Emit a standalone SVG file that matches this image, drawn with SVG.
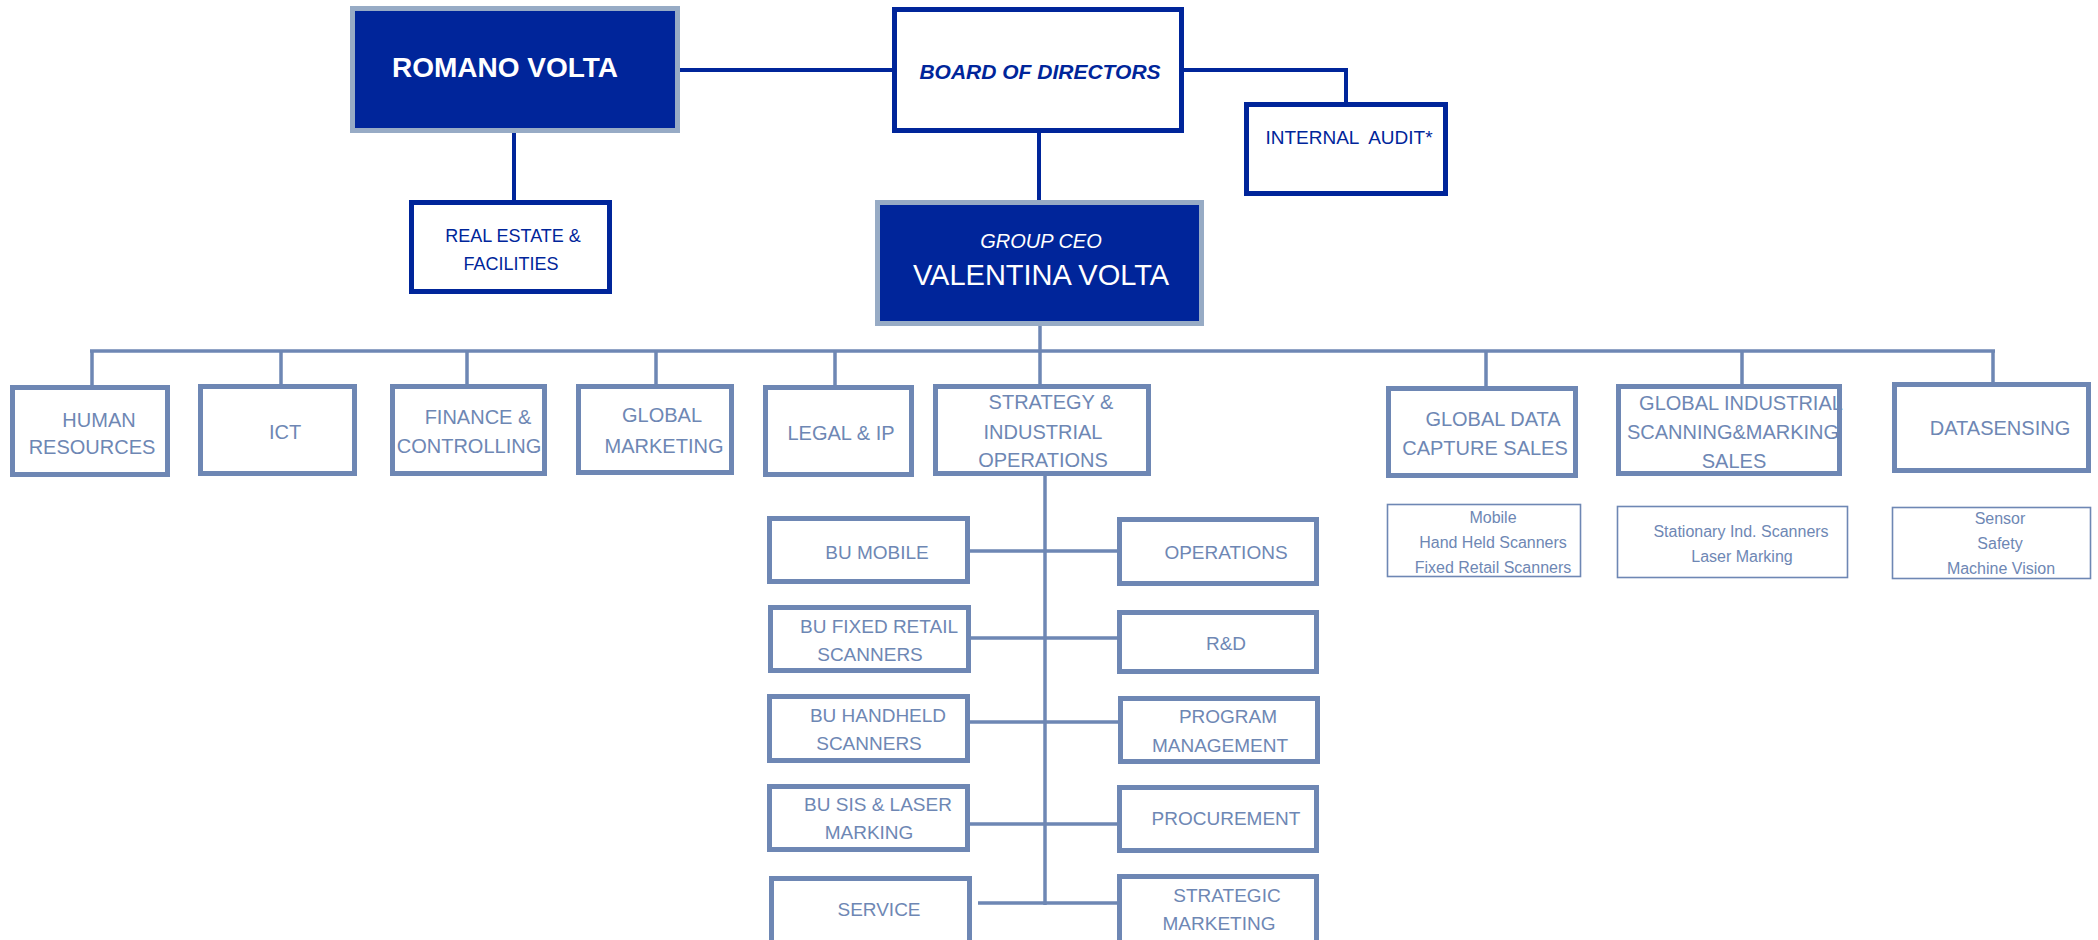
<svg xmlns="http://www.w3.org/2000/svg" width="2098" height="940" viewBox="0 0 2098 940">
<style>
text{font-family:"Liberation Sans",Arial,sans-serif;text-anchor:middle}
.dk{fill:#00259A;stroke:#97ABC5;stroke-width:5}
.wd{fill:#fff;stroke:#00259A;stroke-width:5}
.sb{fill:#fff;stroke:#6E87B4;stroke-width:5}
.thin{fill:#fff;stroke:#6E87B4;stroke-width:1.6}
.cd{stroke:#00259A;stroke-width:4;fill:none}
.cs{stroke:#6E87B4;stroke-width:3.5;fill:none}
.tw{fill:#fff}
.tdb{fill:#00259A}
.ts{fill:#6E87B4;font-size:20px}
.tl{fill:#6E87B4;font-size:19px}
.tx{fill:#6E87B4;font-size:16px}
</style>
<rect width="2098" height="940" fill="#fff"/>
<g id="connectors">
<path class="cd" d="M680 70H892"/>
<path class="cd" d="M1184 70H1346V102"/>
<path class="cd" d="M514 133V200"/>
<path class="cd" d="M1039 133V200"/>
<path class="cs" d="M1040 326V351"/>
<path class="cs" d="M90 351H1995"/>
<path class="cs" d="M92 351V385M281 351V384M467 351V384M656 351V384M835 351V385M1040 351V384M1486 351V388M1742 351V386M1993 351V383"/>
<path class="cs" d="M1045 476V905"/>
<path class="cs" d="M970 551H1117M971 638H1117M970 722H1118M970 824H1117M978 903H1117"/>
</g>
<g id="romano"><rect class="dk" x="352.5" y="8.5" width="325" height="122"/><text class="tw" x="505" y="77" font-size="28" font-weight="bold">ROMANO VOLTA</text></g>
<g id="board"><rect class="wd" x="894.5" y="9.5" width="287" height="121"/><text class="tdb" x="1040" y="79" font-size="21" font-weight="bold" font-style="italic">BOARD OF DIRECTORS</text></g>
<g id="audit"><rect class="wd" x="1246.5" y="104.5" width="199" height="89"/><text class="tdb" x="1349" y="144" font-size="19" xml:space="preserve">INTERNAL  AUDIT*</text></g>
<g id="realestate"><rect class="wd" x="411.5" y="202.5" width="198" height="89"/><text class="tdb" font-size="18"><tspan x="513" y="242">REAL ESTATE &amp;</tspan><tspan x="511" y="270">FACILITIES</tspan></text></g>
<g id="ceo"><rect class="dk" x="877.5" y="202.5" width="324" height="121"/><text class="tw" x="1041" y="248" font-size="20" font-style="italic">GROUP CEO</text><text class="tw" x="1041" y="285" font-size="29">VALENTINA VOLTA</text></g>
<g id="hr"><rect class="sb" x="12.5" y="387.5" width="155" height="87"/><text class="ts"><tspan x="99" y="427">HUMAN</tspan><tspan x="92" y="454">RESOURCES</tspan></text></g>
<g id="ict"><rect class="sb" x="200.5" y="386.5" width="154" height="87"/><text class="ts" x="285" y="439">ICT</text></g>
<g id="finance"><rect class="sb" x="392.5" y="386.5" width="152" height="87"/><text class="ts"><tspan x="478" y="424">FINANCE &amp;</tspan><tspan x="469" y="453">CONTROLLING</tspan></text></g>
<g id="globalmarketing"><rect class="sb" x="578.5" y="386.5" width="153" height="86"/><text class="ts"><tspan x="662" y="422">GLOBAL</tspan><tspan x="664" y="453">MARKETING</tspan></text></g>
<g id="legal"><rect class="sb" x="765.5" y="387.5" width="146" height="87"/><text class="ts" x="841" y="440">LEGAL &amp; IP</text></g>
<g id="strategy"><rect class="sb" x="935.5" y="386.5" width="213" height="87"/><text class="ts"><tspan x="1051" y="409">STRATEGY &amp;</tspan><tspan x="1043" y="439">INDUSTRIAL</tspan><tspan x="1043" y="467">OPERATIONS</tspan></text></g>
<g id="gdcs"><rect class="sb" x="1388.5" y="388.5" width="187" height="87"/><text class="ts"><tspan x="1493" y="426">GLOBAL DATA</tspan><tspan x="1485" y="455">CAPTURE SALES</tspan></text></g>
<g id="gism"><rect class="sb" x="1618.5" y="386.5" width="221" height="87"/><text class="ts"><tspan x="1741" y="410">GLOBAL INDUSTRIAL</tspan><tspan x="1733" y="439">SCANNING&amp;MARKING</tspan><tspan x="1734" y="468">SALES</tspan></text></g>
<g id="datasensing"><rect class="sb" x="1894.5" y="384.5" width="194" height="86"/><text class="ts" x="2000" y="435">DATASENSING</text></g>
<g id="gdcs-sub"><rect class="thin" x="1387.5" y="504.5" width="193" height="72"/><text class="tx"><tspan x="1493" y="523">Mobile</tspan><tspan x="1493" y="548">Hand Held Scanners</tspan><tspan x="1493" y="573">Fixed Retail Scanners</tspan></text></g>
<g id="gism-sub"><rect class="thin" x="1617.5" y="506.5" width="230" height="71"/><text class="tx"><tspan x="1741" y="537">Stationary Ind. Scanners</tspan><tspan x="1742" y="562">Laser Marking</tspan></text></g>
<g id="ds-sub"><rect class="thin" x="1892.5" y="507.5" width="198" height="71"/><text class="tx"><tspan x="2000" y="524">Sensor</tspan><tspan x="2000" y="549">Safety</tspan><tspan x="2001" y="574">Machine Vision</tspan></text></g>
<g id="bumobile"><rect class="sb" x="769.5" y="518.5" width="198" height="63"/><text class="tl" x="877" y="559">BU MOBILE</text></g>
<g id="operations"><rect class="sb" x="1119.5" y="519.5" width="197" height="64"/><text class="tl" x="1226" y="559">OPERATIONS</text></g>
<g id="bufixed"><rect class="sb" x="770.5" y="607.5" width="198" height="63"/><text class="tl"><tspan x="879" y="633">BU FIXED RETAIL</tspan><tspan x="870" y="661">SCANNERS</tspan></text></g>
<g id="rd"><rect class="sb" x="1119.5" y="612.5" width="197" height="59"/><text class="tl" x="1226" y="650">R&amp;D</text></g>
<g id="buhandheld"><rect class="sb" x="769.5" y="696.5" width="198" height="64"/><text class="tl"><tspan x="878" y="722">BU HANDHELD</tspan><tspan x="869" y="750">SCANNERS</tspan></text></g>
<g id="program"><rect class="sb" x="1120.5" y="698.5" width="197" height="63"/><text class="tl"><tspan x="1228" y="723">PROGRAM</tspan><tspan x="1220" y="752">MANAGEMENT</tspan></text></g>
<g id="busis"><rect class="sb" x="769.5" y="786.5" width="198" height="63"/><text class="tl"><tspan x="878" y="811">BU SIS &amp; LASER</tspan><tspan x="869" y="839">MARKING</tspan></text></g>
<g id="procurement"><rect class="sb" x="1119.5" y="787.5" width="197" height="63"/><text class="tl" x="1226" y="825">PROCUREMENT</text></g>
<g id="service"><rect class="sb" x="771.5" y="878.5" width="198" height="75"/><text class="tl" x="879" y="916">SERVICE</text></g>
<g id="strategicmarketing"><rect class="sb" x="1119.5" y="876.5" width="197" height="77"/><text class="tl"><tspan x="1227" y="902">STRATEGIC</tspan><tspan x="1219" y="930">MARKETING</tspan></text></g>
</svg>
